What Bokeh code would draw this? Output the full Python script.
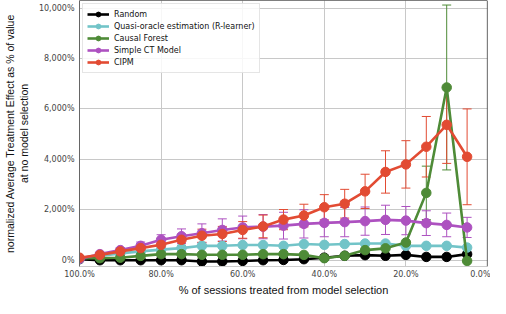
import numpy as np
from bokeh.plotting import figure
from bokeh.models import (Range1d, NumeralTickFormatter, FixedTicker, Whisker,
                          ColumnDataSource, TeeHead, Span)
from bokeh.embed import file_html
from bokeh.resources import INLINE

# x: % of sessions treated
treated = [100, 95, 90, 85, 80, 75, 70, 65, 60, 55, 50, 45, 40, 35, 30, 25, 20, 15, 10, 5]

random_vals = [40, 0, 0, 0, 0, 0, -50, -50, -30, 0, 10, 40, 100, 175, 200, 175, 210, 130, 130, 240]
quasi_vals = [60, 170, 270, 350, 420, 480, 570, 570, 600, 600, 570, 640, 610, 640, 660, 660, 570, 570, 570, 500]
cforest_vals = [80, 80, 100, 170, 240, 240, 215, 215, 215, 240, 240, 210, 80, 175, 400, 470, 700, 2670, 6850, -30]
simplect_vals = [60, 240, 400, 570, 810, 950, 1070, 1200, 1300, 1330, 1370, 1440, 1480, 1510, 1550, 1600, 1570, 1470, 1400, 1300]
cipm_vals = [100, 210, 350, 480, 610, 810, 970, 1040, 1200, 1340, 1610, 1770, 2100, 2240, 2730, 3500, 3800, 4500, 5370, 4100]

cforest_err = [0, 0, 0, 0, 0, 0, 0, 0, 0, 0, 0, 0, 0, 0, 0, 0, 0, 1060, 3270, 0]
simplect_err = [30, 60, 100, 150, 200, 290, 370, 440, 450, 480, 530, 560, 550, 580, 560, 580, 560, 490, 470, 400]
cipm_err = [50, 80, 120, 150, 180, 220, 260, 300, 330, 450, 400, 450, 500, 570, 680, 840, 940, 1200, 1530, 1900]

x_ticks = [100, 80, 60, 40, 20, 0]
y_ticks = [0, 2000, 4000, 6000, 8000, 10000]
x_lim = (100, 0)
y_lim = (-250, 10300)
x_title = "% of sessions treated from model selection"
y_title = "normalized Average Treatment Effect as % of value\nat no model selection"

names = ["Random", "Quasi-oracle estimation (R-learner)", "Causal Forest", "Simple CT Model", "CIPM"]
colors = ["#000000", "#72c4c8", "#4e8b37", "#ad51c0", "#e24b33"]
series = [random_vals, quasi_vals, cforest_vals, simplect_vals, cipm_vals]
errors = [None, None, cforest_err, simplect_err, cipm_err]

x = np.array(treated) / 100.0

p = figure(width=490, height=298, output_backend="svg", toolbar_location=None,
           x_range=Range1d(x_lim[0] / 100, x_lim[1] / 100),
           y_range=Range1d(y_lim[0] / 100, y_lim[1] / 100),
           min_border_left=62, min_border_right=3, min_border_top=0, min_border_bottom=0)

p.outline_line_color = None
p.background_fill_color = "white"
p.border_fill_color = "white"

for name, col, vals, err in zip(names, colors, series, errors):
    y = np.array(vals) / 100.0
    if err is not None:
        e = np.array(err) / 100.0
        src = ColumnDataSource(dict(x=x, lo=y - e, hi=y + e))
        w = Whisker(base="x", lower="lo", upper="hi", source=src, dimension="height",
                    line_color=col, line_width=1,
                    upper_head=TeeHead(size=9, line_color=col, line_width=1),
                    lower_head=TeeHead(size=9, line_color=col, line_width=1))
        p.add_layout(w)
    p.line(x, y, line_color=col, line_width=2.6, legend_label=name)
    p.scatter(x, y, marker="circle", size=9.5, fill_color=col, line_color=col, legend_label=name)

# spines: top and right black
p.add_layout(Span(location=y_lim[1] / 100, dimension="width", line_color="black", line_width=1.2))
p.add_layout(Span(location=x_lim[1] / 100, dimension="height", line_color="black", line_width=1.2))

p.xaxis.ticker = FixedTicker(ticks=[t / 100 for t in x_ticks])
p.yaxis.ticker = FixedTicker(ticks=[t / 100 for t in y_ticks])
p.xaxis.formatter = NumeralTickFormatter(format="0.0%")
p.yaxis.formatter = NumeralTickFormatter(format="0,0%")

for ax in (p.xaxis, p.yaxis):
    ax.major_tick_out = 0
    ax.major_tick_in = 0
    ax.minor_tick_out = 0
    ax.minor_tick_in = 0
    ax.major_label_text_font = "DejaVu Sans"
    ax.major_label_text_font_size = "8px"
    ax.major_label_text_color = "#444444"
    ax.axis_label_text_font = "Liberation Sans"
    ax.axis_label_text_font_style = "normal"
    ax.axis_label_text_color = "#111111"

p.xaxis.axis_label_text_font_size = "11px"
p.yaxis.axis_label_text_font_size = "10.5px"
p.yaxis.axis_line_color = "#666666"
p.xaxis.axis_line_color = "#cccccc"
p.xaxis.major_label_standoff = 3
p.yaxis.major_label_standoff = 5
p.xaxis.axis_label = x_title
p.yaxis.axis_label = y_title
p.xaxis.axis_label_standoff = 2
p.yaxis.axis_label_standoff = 6

p.grid.grid_line_color = "#c8c8c8"
p.grid.grid_line_width = 1

p.legend.location = "top_left"
p.legend.label_text_font = "DejaVu Sans"
p.legend.label_text_font_size = "8px"
p.legend.label_text_color = "#111111"
p.legend.label_height = 10
p.legend.glyph_height = 12
p.legend.glyph_width = 22
p.legend.spacing = 0
p.legend.padding = 4
p.legend.margin = 3
p.legend.border_line_color = "#cccccc"
p.legend.background_fill_alpha = 0.85

open("out.html", "w").write(file_html(p, INLINE))
